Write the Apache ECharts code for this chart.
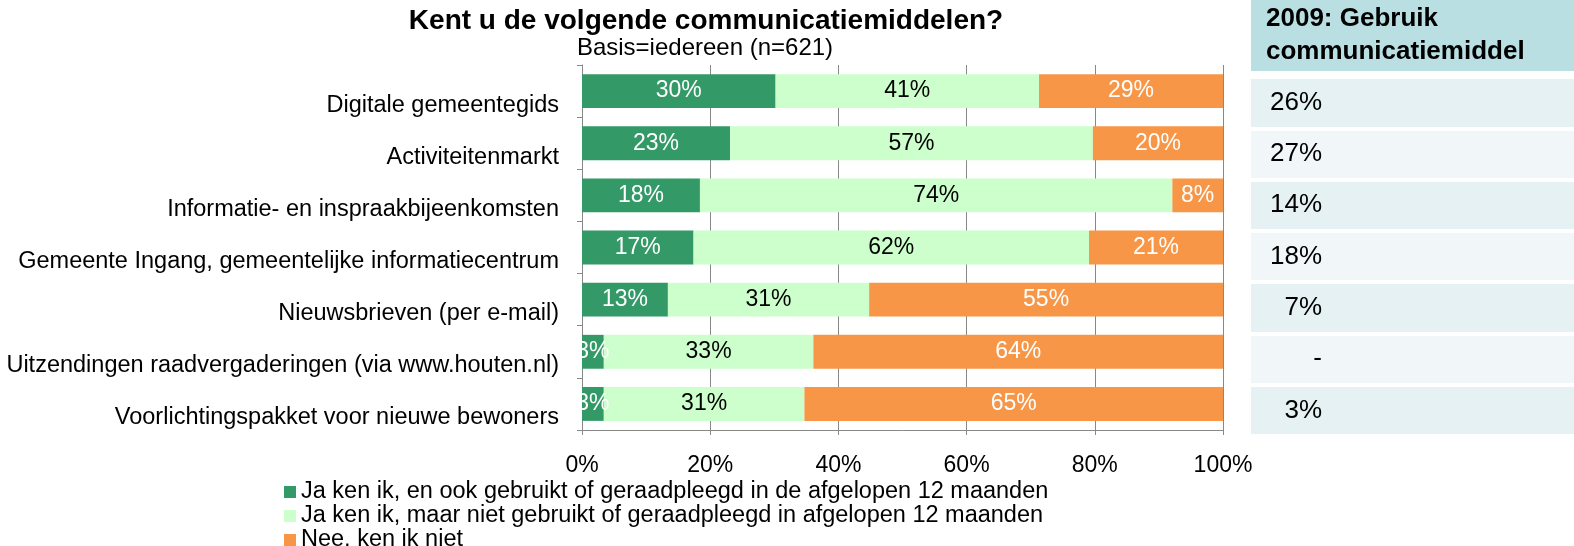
<!DOCTYPE html>
<html>
<head>
<meta charset="utf-8">
<script src="https://cdn.jsdelivr.net/npm/echarts@6/dist/echarts.min.js"></script>
<style>
  html, body { margin: 0; padding: 0; background: #fff; }
  #chart { width: 1574px; height: 546px; }
</style>
</head>
<body>
<div id="chart"></div>
<script>
  // gegevens
  const categories = [
    'Digitale gemeentegids',
    'Activiteitenmarkt',
    'Informatie- en inspraakbijeenkomsten',
    'Gemeente Ingang, gemeentelijke informatiecentrum',
    'Nieuwsbrieven (per e-mail)',
    'Uitzendingen raadvergaderingen (via www.houten.nl)',
    'Voorlichtingspakket voor nieuwe bewoners'
  ];
  const seriesNames = [
    'Ja ken ik, en ook gebruikt of geraadpleegd in de afgelopen 12 maanden',
    'Ja ken ik, maar niet gebruikt of geraadpleegd in afgelopen 12 maanden',
    'Nee, ken ik niet'
  ];
  const gebruikt = [30.2, 23.1, 18.4, 17.4, 13.4, 3.4, 3.4];
  const nietGebruikt = [41.1, 56.6, 73.7, 61.7, 31.4, 32.7, 31.3];
  const kenNiet = [28.7, 20.3, 7.9, 20.9, 55.2, 63.9, 65.3];
  const gebruik2009 = ['26%', '27%', '14%', '18%', '7%', '-', '3%'];
  const xTicks = [0, 20, 40, 60, 80, 100];

  const font = '"Liberation Sans", Arial, sans-serif';
  const colors = ['#339966', '#ccffcc', '#f79646'];
  const labelColors = ['#ffffff', '#000000', '#ffffff'];
  const values = [gebruikt, nietGebruikt, kenNiet];

  let myChart = echarts.init(document.getElementById('chart'));

  const barSeries = seriesNames.map(function (name, i) {
    return {
      name: name,
      type: 'bar',
      stack: 'totaal',
      xAxisIndex: 0,
      yAxisIndex: 0,
      barCategoryGap: '35%',
      data: values[i],
      itemStyle: { color: colors[i] },
      label: {
        show: true,
        position: 'inside',
        color: labelColors[i],
        fontFamily: font,
        fontSize: 23,
        formatter: function (p) { return Math.round(p.value) + '%'; }
      }
    };
  });

  myChart.setOption({
    animation: false,
    textStyle: { fontFamily: font },
    graphic: [
      {
        type: 'text', x: 706, y: 21,
        style: {
          text: 'Kent u de volgende communicatiemiddelen?',
          fontFamily: font, fontSize: 28, fontWeight: 'bold',
          fill: '#000', align: 'center', verticalAlign: 'middle'
        }
      },
      {
        type: 'text', x: 705, y: 48,
        style: {
          text: 'Basis=iedereen (n=621)',
          fontFamily: font, fontSize: 24,
          fill: '#000', align: 'center', verticalAlign: 'middle'
        }
      },
      {
        type: 'rect',
        shape: { x: 1251, y: 0, width: 323, height: 71 },
        style: { fill: '#b9dfe3' }
      },
      {
        type: 'text', x: 1266, y: 35,
        style: {
          text: '2009: Gebruik\ncommunicatiemiddel',
          fontFamily: font, fontSize: 26, fontWeight: 'bold', lineHeight: 33,
          fill: '#000', align: 'left', verticalAlign: 'middle'
        }
      }
    ],
    legend: {
      orient: 'vertical',
      left: 284,
      top: 480,
      height: 80,
      padding: 0,
      itemWidth: 12,
      itemHeight: 12,
      itemGap: 0,
      icon: 'rect',
      data: seriesNames,
      textStyle: { fontFamily: font, fontSize: 23.5, color: '#000', lineHeight: 22 }
    },
    grid: [
      { left: 582, right: 351, top: 65, height: 365 },
      { left: 1251, right: 0, top: 77, height: 359 }
    ],
    xAxis: [
      {
        type: 'value',
        gridIndex: 0,
        min: xTicks[0],
        max: xTicks[xTicks.length - 1],
        interval: xTicks[1] - xTicks[0],
        axisLine: { show: true, lineStyle: { color: '#888888' } },
        axisTick: { show: true, length: 5, lineStyle: { color: '#888888' } },
        splitLine: { show: true, lineStyle: { color: '#888888', width: 1 } },
        axisLabel: { formatter: '{value}%', fontSize: 23, color: '#000', margin: 24 }
      },
      {
        type: 'value',
        gridIndex: 1,
        min: 0, max: 1,
        show: false
      }
    ],
    yAxis: [
      {
        type: 'category',
        gridIndex: 0,
        inverse: true,
        data: categories,
        axisLine: { show: true, lineStyle: { color: '#888888' } },
        axisTick: { show: true, length: 5, lineStyle: { color: '#888888' } },
        axisLabel: {
          fontSize: 23.5, color: '#000', margin: 23,
          verticalAlign: 'top', padding: [2, 0, 0, 0]
        }
      },
      {
        type: 'category',
        gridIndex: 1,
        inverse: true,
        data: categories,
        axisLine: { show: false },
        axisTick: { show: false },
        splitLine: { show: true, lineStyle: { color: '#ffffff', width: 4 } },
        splitArea: { show: true, areaStyle: { color: ['#e5f1f3', '#f1f7f9'] } },
        axisLabel: {
          inside: true,
          margin: 71,
          align: 'right',
          fontSize: 26,
          color: '#000',
          formatter: function (v, idx) { return gebruik2009[idx]; }
        }
      }
    ],
    series: barSeries
  });
</script>
</body>
</html>
